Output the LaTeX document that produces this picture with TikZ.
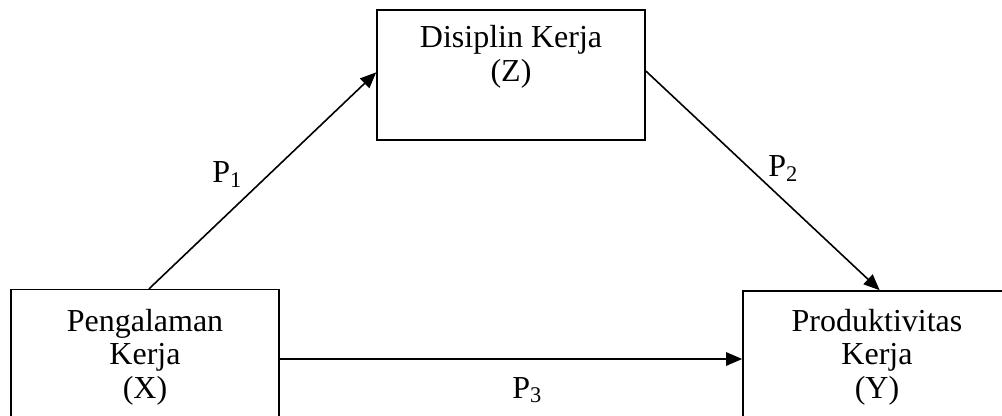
\documentclass[tikz,border=0pt]{standalone}
\usepackage{fontspec}
\setmainfont{Liberation Serif}
\usetikzlibrary{arrows.meta}
\tikzset{
  varbox/.style={draw, line width=1.2pt, minimum width=201pt, align=center,
    font=\fontsize{24}{25}\selectfont, inner sep=0pt},
  link/.style={line width=1.2pt, -{Triangle[length=12pt,width=10pt]}},
  pathlabel/.style={anchor=base west, inner sep=0pt, font=\fontsize{24}{25}\selectfont}
}
\begin{document}
\begin{tikzpicture}[x=0.75pt,y=-0.75pt]
  \clip (0,0) rectangle (1002,416);
  \fill[white] (0,0) rectangle (1002,416);

  % variables
  \node[varbox, minimum height=97.5pt] (Z) at (511,75) {Disiplin Kerja\\(Z)\\\strut};
  \node[varbox, minimum height=101pt] (X) at (145,357) {Pengalaman\\Kerja\\(X)};
  \node[varbox, minimum height=99pt] (Y) at (877,357) {Produktivitas\\Kerja\\(Y)};

  % paths
  \draw[link] ([xshift=3pt]X.north) -- ([yshift=2pt]Z.west);
  \draw[link] ([yshift=3pt]Z.east) -- ([xshift=2pt]Y.north);
  \draw[link] ([yshift=-1.5pt]X.east) -- ([yshift=-1.5pt]Y.west);

  % path coefficients
  \node[pathlabel] (p1) at (212,183) {P\textsubscript{1}};
  \node[pathlabel] (p2) at (768,177) {P\textsubscript{2}};
  \node[pathlabel] (p3) at (512,398) {P\textsubscript{3}};
\end{tikzpicture}
\end{document}
